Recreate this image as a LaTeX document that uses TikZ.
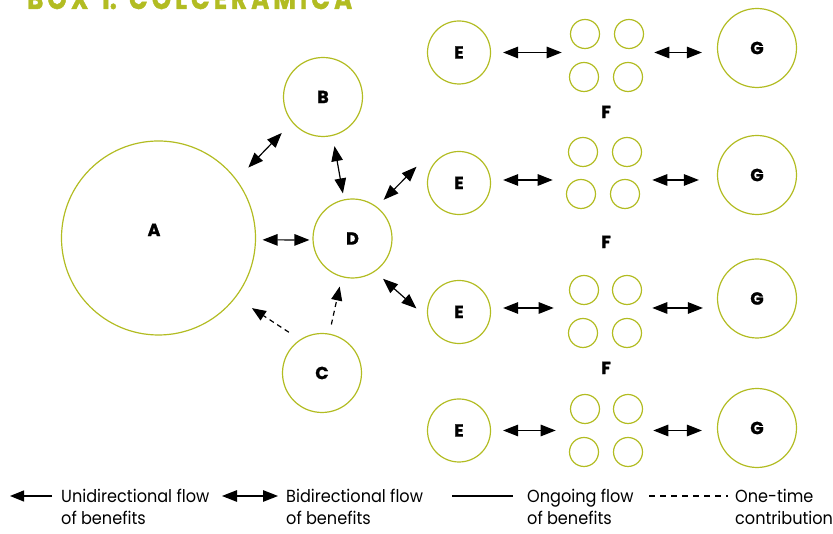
\documentclass[tikz,border=0pt]{standalone}
\usepackage{fontspec}
\setmainfont{Poppins}
\newfontfamily\legfont[FakeStretch=0.92]{Poppins}
\newfontfamily\labfont[FakeBold=1.2]{Poppins}
\newfontfamily\headfont[FakeBold=1.5]{Poppins}
\usetikzlibrary{arrows.meta,fit}
\definecolor{boxolive}{RGB}{178,188,34}

\tikzset{
  ring/.style={circle, draw=boxolive, line width=1.2pt, inner sep=0pt,
    font=\labfont\bfseries\fontsize{17.5}{17.5}\selectfont},
  big/.style={ring, minimum size=194pt},
  mid/.style={ring, minimum size=79pt},
  small/.style={ring, minimum size=63pt},
  tiny/.style={ring, minimum size=29pt},
  lab/.style={inner sep=0pt, font=\labfont\bfseries\fontsize{17.5}{17.5}\selectfont},
  grp/.style={inner sep=0pt},
  bi/.style={{Triangle[length=15pt,width=11.5pt]}-{Triangle[length=15pt,width=11.5pt]}, line width=1.2pt},
  uni/.style={-{Triangle[length=14pt,width=11pt]}, line width=1.2pt},
  once/.style={uni, dash pattern=on 5pt off 4pt},
  legtext/.style={anchor=base west, inner sep=0pt, font=\legfont\fontsize{17.5}{17.5}\selectfont},
}

\begin{document}
\begin{tikzpicture}[x=1pt, y=1pt]
\useasboundingbox (0,0) rectangle (833,534);
\clip (0,0) rectangle (833,534);

% heading, cut by the top edge
\node[anchor=base west, inner sep=0pt, text=boxolive] (title) at (27,525)
  {\resizebox{325pt}{22pt}{\headfont\bfseries B\,O\,X\,\,\,1.\,\,\,C\,O\,L\,C\,E\,R\,A\,M\,I\,C\,A}};

% central cluster
\node[big] (a) at (158.5,296) {};
\node[lab] (alab) at (154,304) {A};
\node[mid] (b) at (323,437) {B};
\node[mid] (d) at (352.5,295.5) {D};
\node[mid] (c) at (322,161) {C};

% right-hand rows: E -- F group -- G
\node[small] (e1) at (459,481.5) {E};
\node[small] (e2) at (459,351) {E};
\node[small] (e3) at (459,222) {E};
\node[small] (e4) at (459,103.5) {E};

\node[mid] (g1) at (757,486) {G};
\node[mid] (g2) at (757,359) {G};
\node[mid] (g3) at (757,235.5) {G};
\node[mid] (g4) at (757,106) {G};

% F groups of four
\node[tiny] (f1a) at (585,500) {};
\node[tiny] (f1b) at (629,500) {};
\node[tiny] (f1c) at (584,457) {};
\node[tiny] (f1d) at (628,457) {};
\node[grp, fit=(f1a)(f1b)(f1c)(f1d)] (f1) {};

\node[tiny] (f2a) at (583,382) {};
\node[tiny] (f2b) at (627,382) {};
\node[tiny] (f2c) at (581,340) {};
\node[tiny] (f2d) at (625,340) {};
\node[grp, fit=(f2a)(f2b)(f2c)(f2d)] (f2) {};

\node[tiny] (f3a) at (584,244) {};
\node[tiny] (f3b) at (627,244) {};
\node[tiny] (f3c) at (583,201) {};
\node[tiny] (f3d) at (627,201) {};
\node[grp, fit=(f3a)(f3b)(f3c)(f3d)] (f3) {};

\node[tiny] (f4a) at (585,125) {};
\node[tiny] (f4b) at (628,125) {};
\node[tiny] (f4c) at (584,82) {};
\node[tiny] (f4d) at (628,82) {};
\node[grp, fit=(f4a)(f4b)(f4c)(f4d)] (f4) {};

\node[lab] (fl1) at (606,422) {F};
\node[lab] (fl2) at (606,292) {F};
\node[lab] (fl3) at (606,166) {F};

% flows around D
\draw[bi] ([shift={(38.7:16.5)}]a.38.7) -- ([shift={(221.3:14.6)}]b.221.3);
\draw[bi] ([shift={(283.8:10.4)}]b.283.8) -- ([shift={(102.1:6)}]d.102.1);
\draw[bi] ([shift={(-1.1:6.5)}]a.-1.1) -- ([shift={(182:3)}]d.182);
\draw[bi] ([shift={(51.6:9.6)}]d.51.6) -- ([shift={(159.1:13.4)}]e2.159.1);
\draw[bi] ([shift={(307.7:10.4)}]d.307.7) -- ([shift={(175.9:10.6)}]e3.175.9);
\draw[once] ([shift={(79.4:9.3)}]c.79.4) -- ([shift={(255.3:9.6)}]d.255.3);
\draw[once] ([shift={(129.5:12.4)}]c.129.5) -- ([shift={(323.6:19.2)}]a.323.6);

% flows along each row
\draw[bi, shorten <=12pt, shorten >=7pt] (e1.east) -- (e1.east -| f1.west);
\draw[bi, shorten <=10pt, shorten >=15pt] (e1.east -| f1.east) -- (e1.east -| g1.west);
\draw[bi, shorten <=12pt, shorten >=13pt] ([yshift=3pt]e2.east) -- ([yshift=3pt]e2.east -| f2.west);
\draw[bi, shorten <=10pt, shorten >=18pt] ([yshift=3pt]e2.east -| f2.east) -- ([yshift=3pt]e2.east -| g2.west);
\draw[bi, shorten <=12pt, shorten >=14pt] ([yshift=4pt]e3.east) -- ([yshift=4pt]e3.east -| f3.west);
\draw[bi, shorten <=10pt, shorten >=14pt] ([yshift=4pt]e3.east -| f3.east) -- ([yshift=4pt]e3.east -| g3.west);
\draw[bi, shorten <=12pt, shorten >=13pt] (e4.east) -- (e4.east -| f4.west);
\draw[bi, shorten <=10pt, shorten >=15pt] (e4.east -| f4.east) -- (e4.east -| g4.west);

% key
\coordinate (k1s) at (52,38);  \coordinate (k1e) at (10,38);
\coordinate (k2s) at (222,38); \coordinate (k2e) at (278,38);
\coordinate (k3s) at (452,38); \coordinate (k3e) at (513,38);
\coordinate (k4s) at (649,38); \coordinate (k4e) at (728,38);
\draw[uni] (k1s) -- (k1e);
\draw[bi] (k2s) -- (k2e);
\draw[line width=1.2pt] (k3s) -- (k3e);
\draw[line width=1.2pt, dash pattern=on 6pt off 5pt] (k4s) -- (k4e);

\node[legtext] (t1a) at (61,31) {Unidirectional flow};
\node[legtext] (t1b) at (61,9) {of benefits};
\node[legtext] (t2a) at (286,31) {Bidirectional flow};
\node[legtext] (t2b) at (286,9) {of benefits};
\node[legtext] (t3a) at (527,31) {Ongoing flow};
\node[legtext] (t3b) at (527,9) {of benefits};
\node[legtext] (t4a) at (735,31) {One-time};
\node[legtext] (t4b) at (735,9) {contribution};
\end{tikzpicture}
\end{document}
